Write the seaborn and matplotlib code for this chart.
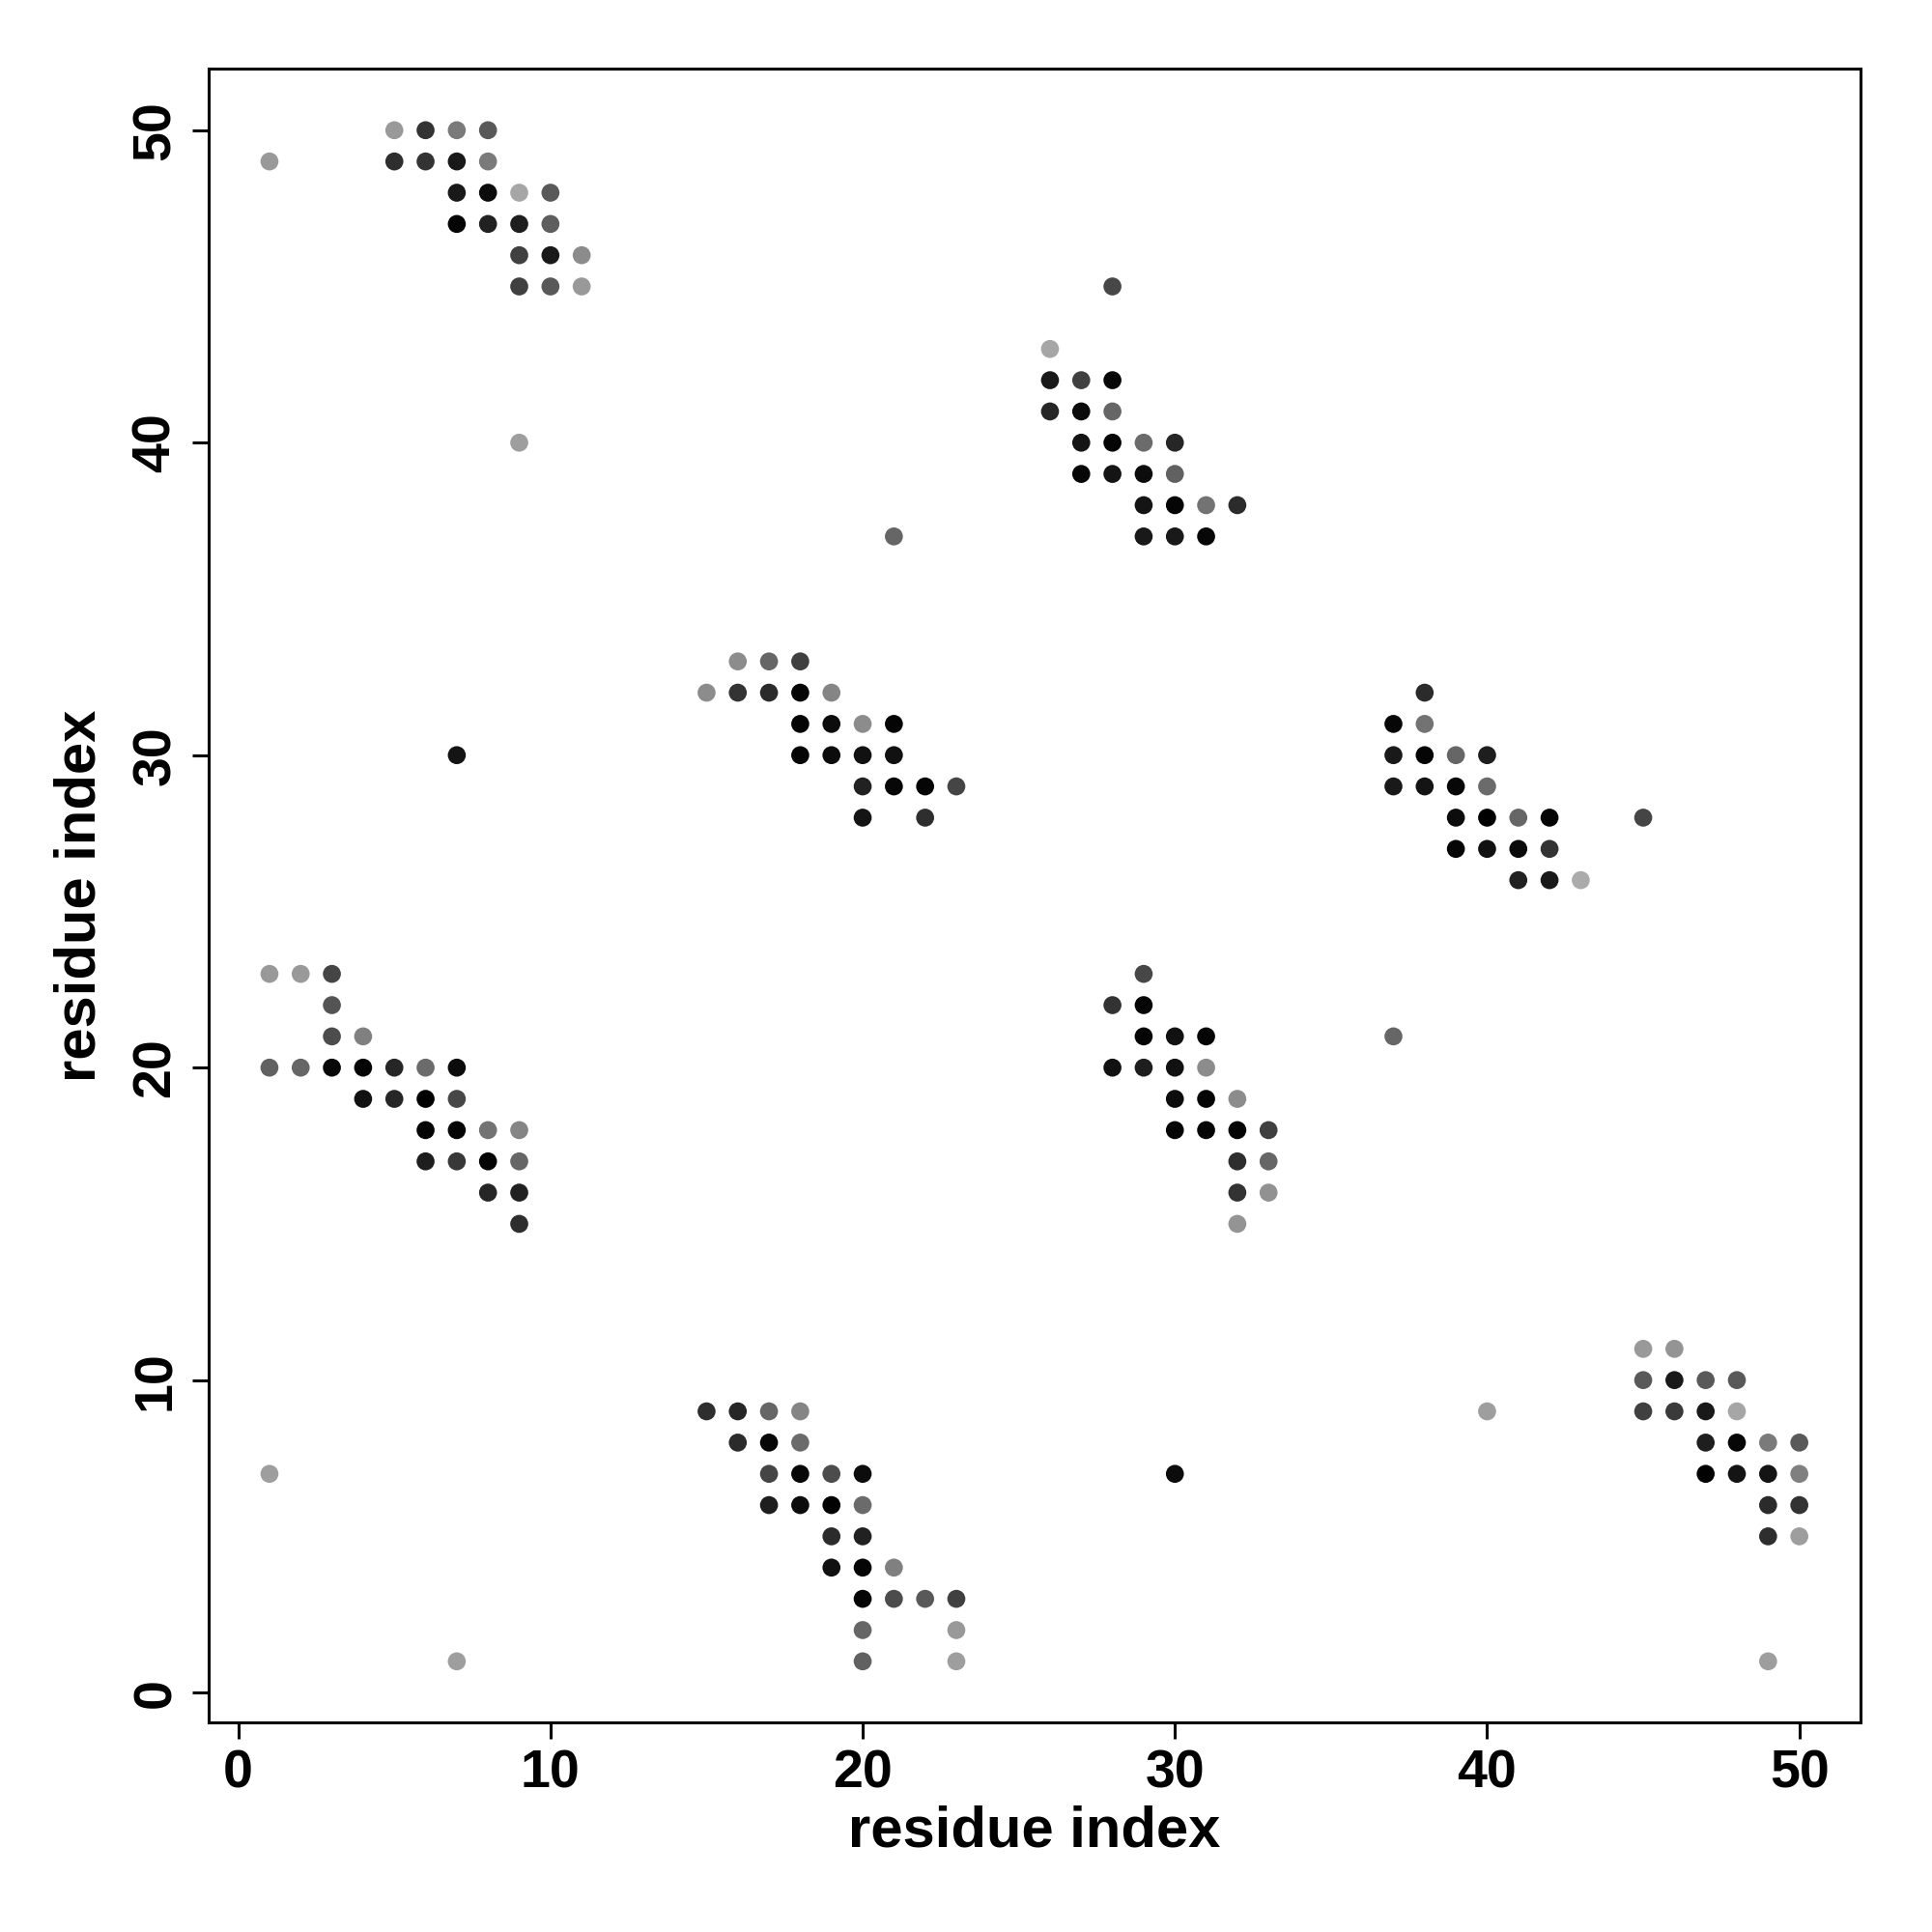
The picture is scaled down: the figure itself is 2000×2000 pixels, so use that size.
import pandas as pd
import seaborn as sns
import matplotlib.pyplot as plt

# contact map: residue i, residue j, grey level (0 = black, 1 = white)
res_i = [
    5, 6, 7, 8,  1, 5, 6, 7, 8,  7, 8, 9, 10,  7, 8, 9, 10,  9, 10, 11,  9, 10, 11,
    9, 7,
    28, 26, 26, 27, 28, 26, 27, 28, 27, 28, 29, 30, 27, 28, 29, 30,
    29, 30, 31, 32, 29, 30, 31, 21,
    16, 17, 18, 15, 16, 17, 18, 19, 18, 19, 20, 21, 18, 19, 20, 21,
    20, 21, 22, 23, 20, 22,
    38, 37, 38, 37, 38, 39, 40, 37, 38, 39, 40, 39, 40, 41, 42, 45,
    39, 40, 41, 42, 41, 42, 43, 37,
    1, 2, 3, 3, 3, 4, 1, 2, 3, 4, 5, 6, 7, 4, 5, 6, 7, 6, 7, 8, 9,
    6, 7, 8, 9, 8, 9, 9,
    29, 28, 29, 29, 30, 31, 28, 29, 30, 31, 30, 31, 32, 30, 31, 32, 33,
    32, 33, 32, 33, 32, 30,
    15, 16, 17, 18, 16, 17, 18, 17, 18, 19, 20, 17, 18, 19, 20, 19, 20,
    19, 20, 21, 20, 21, 22, 23, 20, 23, 20, 23, 1, 7,
    45, 46, 45, 46, 47, 48, 40, 45, 46, 47, 48, 47, 48, 49, 50,
    47, 48, 49, 50, 49, 50, 49, 50, 49,
]
res_j = [
    50, 50, 50, 50,  49, 49, 49, 49, 49,  48, 48, 48, 48,  47, 47, 47, 47,  46, 46, 46,  45, 45, 45,
    40, 30,
    45, 43, 42, 42, 42, 41, 41, 41, 40, 40, 40, 40, 39, 39, 39, 39,
    38, 38, 38, 38, 37, 37, 37, 37,
    33, 33, 33, 32, 32, 32, 32, 32, 31, 31, 31, 31, 30, 30, 30, 30,
    29, 29, 29, 29, 28, 28,
    32, 31, 31, 30, 30, 30, 30, 29, 29, 29, 29, 28, 28, 28, 28, 28,
    27, 27, 27, 27, 26, 26, 26, 21,
    23, 23, 23, 22, 21, 21, 20, 20, 20, 20, 20, 20, 20, 19, 19, 19, 19, 18, 18, 18, 18,
    17, 17, 17, 17, 16, 16, 15,
    23, 22, 22, 21, 21, 21, 20, 20, 20, 20, 19, 19, 19, 18, 18, 18, 18,
    17, 17, 16, 16, 15, 7,
    9, 9, 9, 9, 8, 8, 8, 7, 7, 7, 7, 6, 6, 6, 6, 5, 5,
    4, 4, 4, 3, 3, 3, 3, 2, 2, 1, 1, 7, 1,
    11, 11, 10, 10, 10, 10, 9, 9, 9, 9, 9, 8, 8, 8, 8,
    7, 7, 7, 7, 6, 6, 5, 5, 1,
]
shade = [
    0.60, 0.20, 0.48, 0.35,  0.60, 0.18, 0.20, 0.10, 0.48,  0.10, 0.05, 0.65, 0.35,
    0.02, 0.13, 0.12, 0.37,  0.25, 0.10, 0.55,  0.25, 0.35, 0.60,
    0.62, 0.08,
    0.28, 0.65, 0.10, 0.25, 0.03, 0.15, 0.05, 0.40, 0.08, 0.02, 0.42, 0.15, 0.03, 0.08, 0.05, 0.38,
    0.08, 0.02, 0.45, 0.17, 0.10, 0.10, 0.03, 0.40,
    0.55, 0.40, 0.25, 0.55, 0.20, 0.17, 0.02, 0.52, 0.02, 0.05, 0.55, 0.02, 0.02, 0.05, 0.07, 0.07,
    0.13, 0.03, 0.02, 0.27, 0.08, 0.18,
    0.17, 0.03, 0.45, 0.10, 0.02, 0.40, 0.12, 0.10, 0.08, 0.03, 0.42, 0.05, 0.00, 0.40, 0.02, 0.27,
    0.02, 0.07, 0.04, 0.20, 0.13, 0.10, 0.67, 0.40,
    0.60, 0.60, 0.27, 0.33, 0.30, 0.50, 0.38, 0.40, 0.03, 0.02, 0.15, 0.42, 0.05,
    0.07, 0.15, 0.00, 0.28, 0.02, 0.02, 0.45, 0.52,
    0.12, 0.22, 0.02, 0.40, 0.15, 0.13, 0.18,
    0.28, 0.20, 0.02, 0.02, 0.07, 0.02, 0.07, 0.12, 0.07, 0.55, 0.05, 0.02, 0.55,
    0.02, 0.02, 0.02, 0.25, 0.18, 0.40, 0.20, 0.57, 0.58, 0.05,
    0.18, 0.15, 0.40, 0.52, 0.17, 0.03, 0.42, 0.27, 0.03, 0.30, 0.05, 0.12, 0.05, 0.01, 0.42,
    0.17, 0.13, 0.07, 0.02, 0.50, 0.02, 0.30, 0.35, 0.25, 0.40, 0.60, 0.38, 0.62, 0.62, 0.62,
    0.60, 0.58, 0.35, 0.10, 0.35, 0.35, 0.62, 0.25, 0.23, 0.10, 0.65, 0.12, 0.03, 0.48, 0.35,
    0.01, 0.08, 0.08, 0.50, 0.17, 0.20, 0.18, 0.62, 0.62,
]

df = pd.DataFrame({'i': res_i, 'j': res_j, 'shade': shade})

sns.set_style('white')
plt.rcParams['font.family'] = ['Liberation Sans', 'DejaVu Sans']
plt.rcParams['text.color'] = 'black'
plt.rcParams['axes.labelcolor'] = 'black'
plt.rcParams['xtick.color'] = 'black'
plt.rcParams['ytick.color'] = 'black'

fig = plt.figure(figsize=(20, 20), dpi=100)
ax = fig.add_axes([0.1078, 0.1084, 0.8552, 0.8559])

sns.scatterplot(data=df, x='i', y='j', hue='shade', palette='gray', hue_norm=(0, 1),
                s=180, linewidth=0, legend=False, ax=ax)

ax.set_xlim(-0.96, 51.96)
ax.set_ylim(-0.96, 51.96)
ax.set_xticks([0, 10, 20, 30, 40, 50])
ax.set_yticks([0, 10, 20, 30, 40, 50])
ax.tick_params(axis='both', direction='out', length=12, width=2.2, labelsize=40,
               bottom=True, left=True, pad=8, colors='black')
for lab in ax.get_xticklabels():
    lab.set_fontweight('bold')
for lab in ax.get_yticklabels():
    lab.set_fontweight('bold')
    lab.set_rotation(90)
    lab.set_va('center')

for sp in ax.spines.values():
    sp.set_linewidth(2.2)
    sp.set_color('black')

ax.set_xlabel('residue index', fontsize=43, fontweight='bold', labelpad=4, color='black')
ax.set_ylabel('residue index', fontsize=43, fontweight='bold', labelpad=18, color='black')

plt.savefig('out.png', dpi=100)
